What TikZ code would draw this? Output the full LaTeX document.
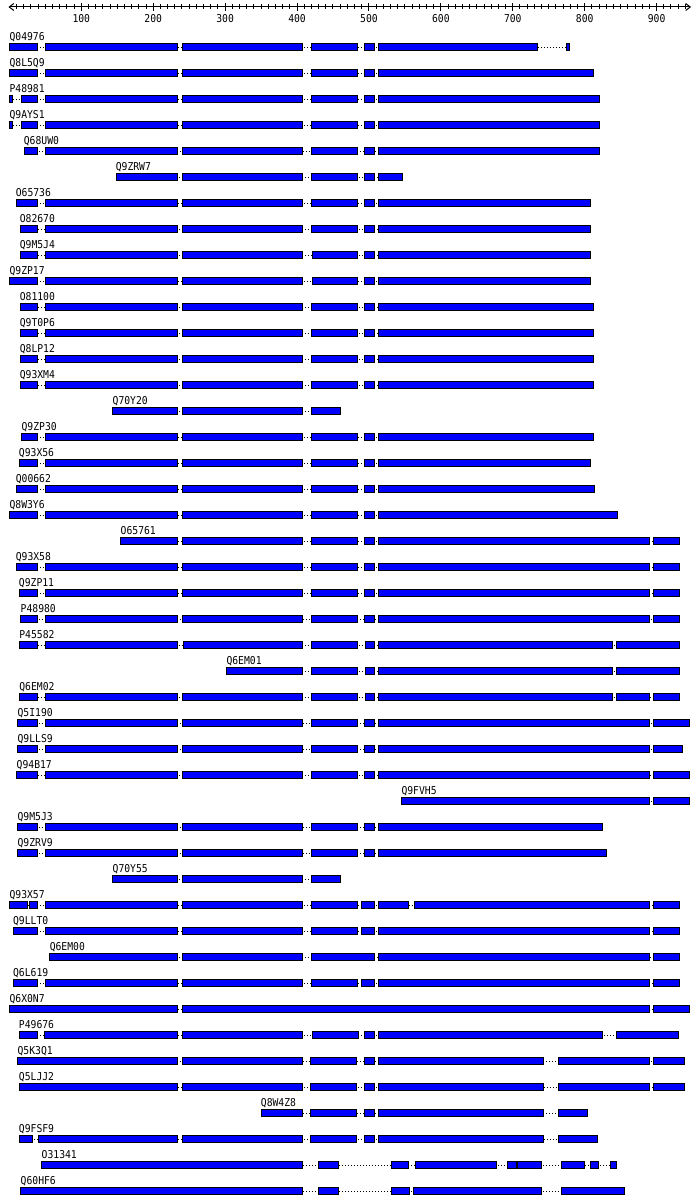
\documentclass[tikz,border=0pt]{standalone}
\usepackage{fontspec}
\usepackage{tikz}
\usetikzlibrary{arrows.meta}
\newfontfamily\seqfont[FakeStretch=0.9]{DejaVu Sans Mono}
\definecolor{segblue}{RGB}{0,0,255}
\tikzset{
  segbar/.style={draw=black, fill=segblue, line width=1pt},
  gapline/.style={black, line width=1pt, dash pattern=on 1pt off 2pt},
  acclabel/.style={anchor=base west, font=\seqfont\fontsize{10.8}{12}\selectfont, inner sep=0pt},
  rulerlabel/.style={anchor=base, font=\seqfont\fontsize{10.8}{12}\selectfont, inner sep=0pt},
  rulerline/.style={black, line width=1pt, {Straight Barb[length=4.5pt,width=7pt]}-{Straight Barb[length=4.5pt,width=7pt]}},
  minortick/.style={black, line width=1pt},
  majortick/.style={black, line width=1pt}
}
% row number, accession, first start, last end, segments
\newcommand{\seqrow}[5]{%
  \pgfmathsetmacro{\yc}{47.3+26*(#1-1)}
  \draw[gapline] (#3,\yc) -- (#4,\yc);
  \foreach \a/\b in {#5} \draw[segbar] (\a,\yc-3.6) rectangle (\b,\yc+3.6);
  \node[acclabel] (#2) at (#3-1,\yc-7) {#2};
}

\begin{document}
\begin{tikzpicture}[x=0.4464pt, y=-1pt]
  \useasboundingbox (0,0) rectangle (1568,1201);
  % Ruler
  \coordinate (ruleL) at (19,7);
  \coordinate (ruleR) at (1548,7);
  \draw[rulerline] (ruleL) -- (ruleR);
  \foreach \k in {1,...,94} \draw[minortick] (21+16.11*\k,4.5) -- ++(0,5);
  \foreach \k in {1,...,9} {
    \draw[majortick] (21+161.1*\k,3) -- ++(0,8);
    \node[rulerlabel] (tick\k) at (21+161.1*\k,23) {\k00};
  }
  % Alignment rows
  \seqrow{1}{Q04976}{22}{1276}{22/85,102/398,408/678,697/800,816/838,847/1205,1270/1276}
  \seqrow{2}{Q8L5Q9}{22}{1330}{22/85,102/398,408/678,697/800,816/838,847/1330}
  \seqrow{3}{P48981}{22}{1343}{22/27,49/85,102/398,408/678,697/800,816/838,847/1343}
  \seqrow{4}{Q9AYS1}{22}{1343}{22/27,49/85,102/398,408/678,697/800,816/838,847/1343}
  \seqrow{5}{Q68UW0}{54}{1343}{54/85,102/398,408/678,697/800,816/838,847/1343}
  \seqrow{6}{Q9ZRW7}{260}{902}{260/398,408/678,697/800,816/838,847/902}
  \seqrow{7}{O65736}{36}{1323}{36/85,102/398,408/678,697/800,816/838,847/1323}
  \seqrow{8}{O82670}{45}{1323}{45/85,102/398,408/678,697/800,816/838,847/1323}
  \seqrow{9}{Q9M5J4}{45}{1323}{45/85,102/398,408/678,699/800,816/838,847/1323}
  \seqrow{10}{Q9ZP17}{22}{1323}{22/85,102/398,408/678,699/800,816/838,847/1323}
  \seqrow{11}{O81100}{45}{1330}{45/85,102/398,408/678,697/800,816/838,847/1330}
  \seqrow{12}{Q9T0P6}{45}{1330}{45/85,102/398,408/678,697/800,816/838,847/1330}
  \seqrow{13}{Q8LP12}{45}{1330}{45/85,102/398,408/678,697/800,816/838,847/1330}
  \seqrow{14}{Q93XM4}{45}{1330}{45/85,102/398,408/678,697/800,816/838,847/1330}
  \seqrow{15}{Q70Y20}{253}{763}{253/398,408/678,697/763}
  \seqrow{16}{Q9ZP30}{49}{1330}{49/85,102/398,408/678,697/800,816/838,847/1330}
  \seqrow{17}{Q93X56}{43}{1323}{43/85,102/398,408/678,697/800,816/838,847/1323}
  \seqrow{18}{Q00662}{36}{1332}{36/85,102/398,408/678,697/800,816/838,847/1332}
  \seqrow{19}{Q8W3Y6}{22}{1383}{22/85,102/398,408/678,697/800,816/838,847/1383}
  \seqrow{20}{O65761}{271}{1522}{271/398,408/678,697/801,816/838,847/1455,1463/1522}
  \seqrow{21}{Q93X58}{36}{1522}{36/85,102/398,408/678,697/800,816/838,847/1455,1463/1522}
  \seqrow{22}{Q9ZP11}{43}{1522}{43/85,102/398,408/678,697/800,816/838,847/1455,1463/1522}
  \seqrow{23}{P48980}{47}{1522}{47/85,102/398,408/678,697/800,816/838,847/1455,1463/1522}
  \seqrow{24}{P45582}{44}{1522}{44/85,102/398,410/678,697/800,818/838,847/1372,1380/1522}
  \seqrow{25}{Q6EM01}{508}{1522}{508/678,697/800,818/838,847/1372,1380/1522}
  \seqrow{26}{Q6EM02}{44}{1522}{44/85,102/398,408/678,697/800,818/838,847/1372,1380/1455,1463/1522}
  \seqrow{27}{Q5I190}{40}{1545}{40/85,102/398,408/678,697/800,816/838,847/1455,1463/1545}
  \seqrow{28}{Q9LLS9}{40}{1528}{40/85,102/398,408/678,697/800,816/838,847/1455,1463/1528}
  \seqrow{29}{Q94B17}{38}{1545}{38/85,102/398,408/678,697/800,816/838,847/1455,1463/1545}
  \seqrow{30}{Q9FVH5}{900}{1545}{900/1455,1463/1545}
  \seqrow{31}{Q9M5J3}{40}{1350}{40/85,102/398,408/678,697/800,816/838,847/1350}
  \seqrow{32}{Q9ZRV9}{40}{1359}{40/85,102/398,408/678,697/800,816/838,847/1359}
  \seqrow{33}{Q70Y55}{253}{763}{253/398,408/678,697/763}
  \seqrow{34}{Q93X57}{22}{1522}{22/62,67/85,102/398,408/678,697/801,810/838,847/914,928/1455,1463/1522}
  \seqrow{35}{Q9LLT0}{30}{1522}{30/85,102/398,408/678,697/800,809/838,847/1455,1463/1522}
  \seqrow{36}{Q6EM00}{112}{1522}{112/398,408/678,697/838,847/1455,1463/1522}
  \seqrow{37}{Q6L619}{30}{1522}{30/85,102/398,408/678,697/800,809/838,847/1455,1463/1522}
  \seqrow{38}{Q6X0N7}{22}{1545}{22/398,408/1455,1463/1545}
  \seqrow{39}{P49676}{43}{1520}{43/85,100/398,408/678,699/803,816/838,847/1350,1380/1520}
  \seqrow{40}{Q5K3Q1}{40}{1533}{40/398,408/678,695/798,816/838,849/1218,1250/1455,1463/1533}
  \seqrow{41}{Q5LJJ2}{43}{1533}{43/398,408/678,695/798,816/838,849/1218,1250/1455,1463/1533}
  \seqrow{42}{Q8W4Z8}{585}{1315}{585/678,695/798,816/838,849/1218,1250/1315}
  \seqrow{43}{Q9FSF9}{43}{1338}{43/73,86/398,408/678,695/798,816/838,849/1218,1250/1338}
  \seqrow{44}{O31341}{94}{1380}{94/678,713/758,878/915,930/1112,1136/1156,1160/1212,1257/1310,1322/1340,1367/1380}
  \seqrow{45}{Q60HF6}{47}{1398}{47/678,713/758,878/917,927/1213,1257/1398}
\end{tikzpicture}
\end{document}
